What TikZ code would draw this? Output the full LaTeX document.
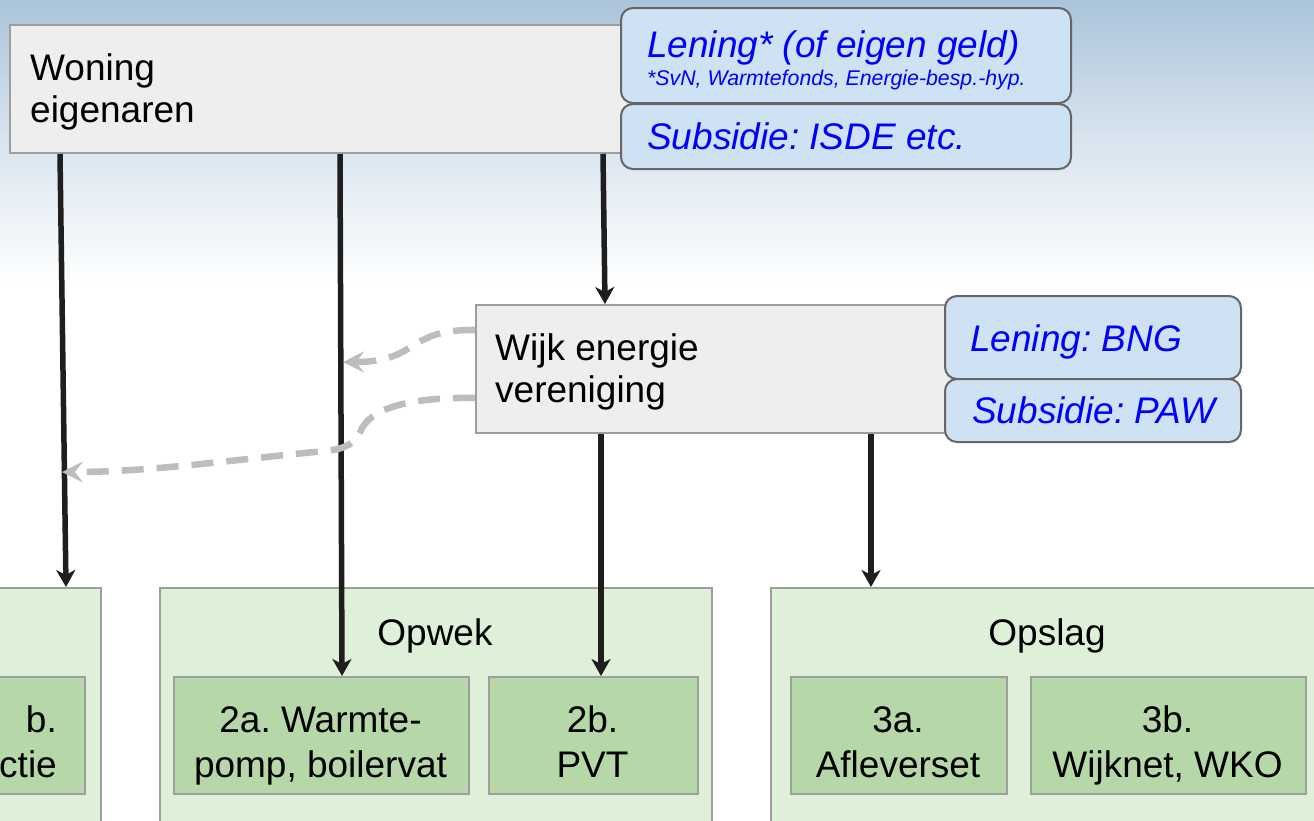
\documentclass[tikz,border=0pt]{standalone}
\usepackage{fontspec}
\setmainfont{Liberation Sans}
\usetikzlibrary{arrows.meta}
\definecolor{skyblue}{HTML}{ABC4DA}
\definecolor{boxgray}{HTML}{EEEEEE}
\definecolor{boxedge}{HTML}{9E9E9E}
\definecolor{bluefill}{HTML}{CFE2F3}
\definecolor{blueedge}{HTML}{666666}
\definecolor{bluetext}{HTML}{0000FF}
\definecolor{contfill}{HTML}{DFF0D8}
\definecolor{innerfill}{HTML}{B6D7A8}
\definecolor{dashgray}{HTML}{BDBDBD}
\definecolor{linedark}{HTML}{1E1E1E}
\frenchspacing
\begin{document}
\begin{tikzpicture}[x=1pt,y=-1pt,
  actorbox/.style={draw=boxedge, fill=boxgray, line width=2pt, rectangle, anchor=north west, inner sep=0pt},
  fundbox/.style={draw=blueedge, fill=bluefill, line width=2pt, rounded corners=12pt, rectangle, anchor=north west, inner sep=0pt},
  fundtext/.style={text=bluetext, font=\fontsize{37}{42}\selectfont\itshape, anchor=base west, inner sep=0pt},
  notetext/.style={text=bluetext, font=\fontsize{21.3}{24}\selectfont\itshape, anchor=base west, inner sep=0pt},
  groupbox/.style={draw=boxedge, fill=contfill, line width=2pt, rectangle, anchor=north west, inner sep=0pt},
  itembox/.style={draw=boxedge, fill=innerfill, line width=2pt, rectangle, anchor=north west, inner sep=0pt},
  plain/.style={inner sep=0pt, font=\fontsize{37}{42}\selectfont},
  itemtext/.style={inner sep=0pt, align=center, font=\fontsize{37}{45}\selectfont},
  flow/.style={draw=linedark, line width=5.5pt, -{Stealth[length=17pt,width=19pt,inset=5pt]}},
  cashflow/.style={draw=dashgray, line width=6.5pt, dash pattern=on 22pt off 13pt, -{Stealth[length=21pt,width=21pt,inset=8pt]}},
]
\useasboundingbox (0,0) rectangle (1314,820);
\clip (0,0) rectangle (1314,820);
\fill[white] (0,0) rectangle (1314,820);
\shade[top color=skyblue, bottom color=white, middle color=skyblue!45] (0,0) rectangle (1314,285);

% groups
\node[groupbox, minimum width=140pt, minimum height=260pt] (grp1) at (-40,587) {};
\node[groupbox, minimum width=552pt, minimum height=260pt] (grp2) at (159,587) {};
\node[groupbox, minimum width=560pt, minimum height=260pt] (grp3) at (770,587) {};
\node[plain, anchor=base] (grp2title) at (435,645) {Opwek};
\node[plain, anchor=base] (grp3title) at (1047,645) {Opslag};

% items
\node[itembox, minimum width=124pt, minimum height=117pt] (item1b) at (-40,676) {};
\node[itembox, minimum width=295pt, minimum height=117pt] (item2a) at (173,676) {};
\node[itembox, minimum width=209pt, minimum height=117pt] (item2b) at (488,676) {};
\node[itembox, minimum width=216pt, minimum height=117pt] (item3a) at (790,676) {};
\node[itembox, minimum width=275pt, minimum height=117pt] (item3b) at (1030,676) {};
\node[itemtext, align=right, anchor=east] (item1btext) at (57,745.5) {b.\strut\\ctie\strut};
\node[itemtext] (item2atext) at (320.5,745.5) {2a. Warmte-\strut\\pomp, boilervat\strut};
\node[itemtext] (item2btext) at (592.5,745.5) {2b.\strut\\PVT\strut};
\node[itemtext] (item3atext) at (898,745.5) {3a.\strut\\Afleverset\strut};
\node[itemtext] (item3btext) at (1167.5,745.5) {3b.\strut\\Wijknet, WKO\strut};

% actors
\node[actorbox, minimum width=621pt, minimum height=128pt] (owners) at (9,24) {};
\node[plain, align=left, anchor=west] (ownerstext) at (30,92.6) {Woning\strut\\eigenaren\strut};
\node[actorbox, minimum width=485pt, minimum height=128pt] (assoc) at (475,304) {};
\node[plain, align=left, anchor=west] (assoctext) at (495,372.6) {Wijk energie\strut\\vereniging\strut};

% funding
\node[fundbox, minimum width=450pt, minimum height=95pt] (loan1) at (620,7) {};
\node[fundbox, minimum width=450pt, minimum height=65pt] (grant1) at (620,103) {};
\node[fundtext] (loan1text) at (647,57) {Lening* (of eigen geld)};
\node[notetext] (loan1note) at (647,85) {*SvN, Warmtefonds, Energie-besp.-hyp.};
\node[fundtext] (grant1text) at (647,149) {Subsidie: ISDE etc.};
\node[fundbox, minimum width=296pt, minimum height=83pt] (loan2) at (944,295) {};
\node[fundbox, minimum width=296pt, minimum height=63pt] (grant2) at (944,378) {};
\node[fundtext] (loan2text) at (970,351) {Lening: BNG};
\node[fundtext] (grant2text) at (972,423) {Subsidie: PAW};

% flows
\draw[flow] ([xshift=51pt]owners.south west) -- ([xshift=-36pt]grp1.north east);
\draw[flow] ([xshift=331pt]owners.south west) -- ([xshift=169pt]item2a.north west);
\draw[flow] ([xshift=594pt]owners.south west) -- ([xshift=130pt]assoc.north west);
\draw[flow] ([xshift=126pt]assoc.south west) -- ([xshift=113pt]item2b.north west);
\draw[flow] ([xshift=396pt]assoc.south west) -- ([xshift=101pt]grp3.north west);

% dashed money flows
\coordinate (cash1end) at (343,362);
\coordinate (cash2end) at (62,472);
\draw[cashflow] ([yshift=39pt]assoc.west) .. controls (405,329) and (420,362) .. (cash1end);
\draw[cashflow] ([yshift=-29pt]assoc.west) .. controls (420,397) and (375,405) .. (362,428)
   .. controls (356,444) and (345,449) .. (325,451) .. controls (230,460) and (150,472) .. (cash2end);
\end{tikzpicture}
\end{document}
